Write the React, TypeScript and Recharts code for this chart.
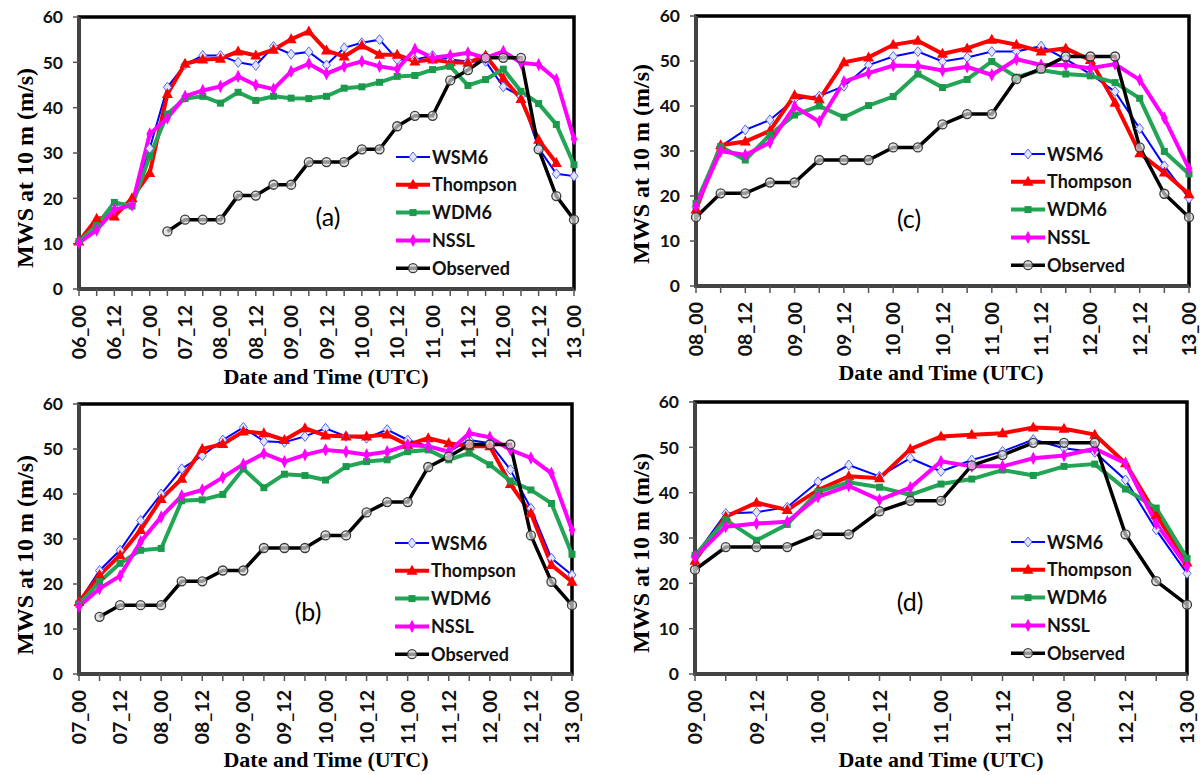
import React from "react";
import { LineChart, Line, XAxis, YAxis, ReferenceArea } from "recharts";

// 6-hourly times, 06 00 UTC through 13 00 UTC
const TIMES = [
  "06_00", "06_06", "06_12", "06_18", "07_00", "07_06", "07_12", "07_18",
  "08_00", "08_06", "08_12", "08_18", "09_00", "09_06", "09_12", "09_18",
  "10_00", "10_06", "10_12", "10_18", "11_00", "11_06", "11_12", "11_18",
  "12_00", "12_06", "12_12", "12_18", "13_00",
];

// observed MWS (m/s) on the same time grid
const OBSERVED = [
  null, null, null, null, null, 12.7, 15.3, 15.3, 15.3, 20.6, 20.6, 23, 23, 28, 28,
  28, 30.8, 30.8, 35.9, 38.2, 38.2, 46, 48.3, 51, 51, 51, 30.8, 20.5, 15.3,
];

// (a) initialised 06_00
const A_WSM6 = [10.5, 14, 18.5, 19, 31, 44.5, 49.5, 51.5, 51.5, 50, 49.3, 53.5, 51.8, 52.3, 49.4, 53.2, 54.3, 55, 50.6, 50.6, 51.5, 50.6, 50.2, 50.2, 44.6, 42.5, 31.1, 25.4, 24.9];
const A_THOMPSON = [10.5, 15.5, 16, 20, 25.6, 43, 49.7, 50.6, 50.8, 52.4, 51.5, 52.8, 55.1, 56.8, 52.6, 51.3, 53.7, 51.7, 51.7, 50.2, 50.6, 50, 49.9, 51.5, 46.5, 41.9, 32.9, 27.8, null];
const A_WDM6 = [10.5, 14, 19.1, 18.3, 29.3, 38.6, 42, 42.5, 41, 43.4, 41.6, 42.5, 42.1, 42, 42.5, 44.3, 44.6, 45.6, 46.9, 47.1, 48.4, 49.1, 44.9, 46.2, 48.5, 43.6, 40.9, 36.3, 27.4];
const A_NSSL = [10.2, 13, 17.5, 18.5, 34.2, 37.7, 42.5, 43.8, 44.7, 46.9, 45, 44.1, 48, 49.7, 47.5, 49.1, 50.2, 49.1, 48.5, 52.9, 51, 51.5, 52.1, 51, 52.4, 49.9, 49.5, 46.2, 33.1];

// (b) initialised 07_00
const B_WSM6 = [16, 23, 27.5, 34.1, 40, 45.6, 48.5, 52, 54.8, 51.7, 51.5, 52.8, 54.6, 52.8, 52.4, 54.3, 52, 50.6, 49.4, 52, 51.3, 45.4, 36.8, 25.7, 22];
const B_THOMPSON = [16, 22, 26.4, 32, 38.9, 43.4, 50, 51.1, 53.9, 53.5, 52, 54.6, 53, 52.8, 52.8, 53.2, 50.9, 52.4, 51.3, 50.6, 50.6, 42.2, 35.7, 24.2, 20.5];
const B_WDM6 = [15.5, 20.5, 24.6, 27.5, 27.9, 38.5, 38.7, 39.9, 45.6, 41.4, 44.4, 44.1, 43.1, 46.1, 47.2, 47.6, 49.4, 49.8, 47.6, 49.1, 46.5, 42.9, 40.9, 37.9, 26.6];
const B_NSSL = [15, 19, 21.8, 29.4, 34.9, 39.6, 40.9, 43.7, 46.6, 49, 47.2, 48.7, 49.8, 49.4, 48.7, 49.4, 50.9, 50.6, 49.4, 53.5, 52.6, 49.8, 48, 44.6, 32];

// (c) initialised 08_00
const C_WSM6 = [17.5, 31, 34.7, 36.9, 41.5, 42.2, 44.4, 49.1, 51, 52.1, 49.9, 50.8, 52.1, 52.1, 53.3, 50.4, 47.1, 43.2, 35, 26.7, 19.5];
const C_THOMPSON = [17, 31.3, 32.1, 34.5, 42.4, 41.5, 49.7, 50.8, 53.6, 54.5, 51.6, 52.8, 54.7, 53.6, 52.1, 52.8, 50.2, 40.7, 29.5, 25.2, 20.4];
const C_WDM6 = [18.4, 31, 28, 33.6, 38, 40, 37.5, 40.1, 42.1, 47.1, 44.1, 45.9, 49.9, 46.4, 48, 47.1, 46.7, 45.2, 41.7, 29.9, 24.9];
const C_NSSL = [17.8, 30, 29.1, 31.9, 39.9, 36.5, 45.4, 47.3, 49, 48.9, 47.9, 48.7, 46.9, 50.4, 49.1, 49.1, 48.4, 49.3, 45.8, 37.3, 26.1];

// (d) initialised 09_00
const D_WSM6 = [26, 35.4, 35.7, 36.8, 42.4, 46.1, 43.6, 47.6, 44.7, 47.2, 49.1, 51.7, 49.8, 48.9, 42.8, 31.8, 22.2];
const D_THOMPSON = [25, 34.7, 37.8, 36.2, 40.6, 43.6, 43.2, 49.6, 52.4, 52.8, 53.1, 54.4, 54.1, 52.8, 46.5, 35.1, 24.6];
const D_WDM6 = [26.2, 34, 29.5, 33, 40.2, 42.3, 41.2, 39.5, 41.9, 43, 45, 43.8, 45.8, 46.3, 40.8, 36.6, 25.5];
const D_NSSL = [25.8, 32.5, 33.2, 33.6, 39.1, 41.5, 38.4, 41.1, 46.9, 45.8, 45.8, 47.6, 48.2, 49.7, 46.5, 33.2, 23.7];

const Y_TICKS = [0, 10, 20, 30, 40, 50, 60];

const SANS = "Lato, 'Open Sans', sans-serif";
const SERIF = "'Liberation Serif', 'DejaVu Serif', serif";

const SERIES = [
  { key: "wsm6", name: "WSM6", color: "#0000FF", width: 2, marker: "diamond" },
  { key: "thompson", name: "Thompson", color: "#FF0000", width: 4, marker: "triangle" },
  { key: "wdm6", name: "WDM6", color: "#22A555", width: 4, marker: "square" },
  { key: "nssl", name: "NSSL", color: "#FF00FF", width: 4, marker: "star" },
  { key: "observed", name: "Observed", color: "#000000", width: 3.5, marker: "circle" },
];

function marker(kind: string, cx: number, cy: number, color: string) {
  switch (kind) {
    case "diamond":
      return <polygon points={`${cx},${cy - 5} ${cx + 4},${cy} ${cx},${cy + 5} ${cx - 4},${cy}`} fill="#e2e5ff" stroke="#5566f2" strokeWidth={1} />;
    case "triangle":
      return <polygon points={`${cx},${cy - 6} ${cx + 5.5},${cy + 4} ${cx - 5.5},${cy + 4}`} fill={color} />;
    case "square":
      return <rect x={cx - 3.5} y={cy - 3.5} width={7} height={7} fill="#1c9a4c" />;
    case "star":
      return <polygon points={`${cx},${cy - 5} ${cx + 2.5},${cy} ${cx},${cy + 5} ${cx - 2.5},${cy}`} fill={color} stroke={color} strokeWidth={1.5} />;
    default:
      return <circle cx={cx} cy={cy} r={4.5} fill="#d6d6d6" fillOpacity={0.7} stroke="#3a3a3a" strokeWidth={1.3} />;
  }
}

// only the 00 and 12 UTC ticks carry a label
const XTick = (props: any) => {
  const { x, y, payload } = props;
  const v: string = payload.value;
  if (!(v.endsWith("_00") || v.endsWith("_12"))) return <g />;
  return (
    <text x={x} y={y} transform={`rotate(-90 ${x} ${y})`} textAnchor="end" dy="0.36em"
      fontFamily={SANS} fontWeight={700} fontSize={19.5} fill="#111">
      {v}
    </text>
  );
};

const PANELS = [
  {
    id: "a", left: 0, top: 0, plot: { x0: 79, x1: 574, y0: 17, y1: 289 },
    wsm6: A_WSM6, thompson: A_THOMPSON, wdm6: A_WDM6, nssl: A_NSSL,
    legend: { x: 396, y: 157 }, letter: { x: 328, y: 218 },
    yTitle: { x: 25, y: 168 }, xTitle: { x: 326, y: 384 },
  },
  {
    id: "b", left: 0, top: 390, plot: { x0: 79, x1: 572, y0: 404, y1: 674 },
    wsm6: B_WSM6, thompson: B_THOMPSON, wdm6: B_WDM6, nssl: B_NSSL,
    legend: { x: 395, y: 543 }, letter: { x: 308, y: 613 },
    yTitle: { x: 25, y: 555 }, xTitle: { x: 326, y: 767 },
  },
  {
    id: "c", left: 602, top: 0, plot: { x0: 696, x1: 1189, y0: 16, y1: 286 },
    wsm6: C_WSM6, thompson: C_THOMPSON, wdm6: C_WDM6, nssl: C_NSSL,
    legend: { x: 1011, y: 154 }, letter: { x: 909, y: 220 },
    yTitle: { x: 641, y: 164 }, xTitle: { x: 941, y: 380 },
  },
  {
    id: "d", left: 602, top: 390, plot: { x0: 695, x1: 1187, y0: 402, y1: 674 },
    wsm6: D_WSM6, thompson: D_THOMPSON, wdm6: D_WDM6, nssl: D_NSSL,
    legend: { x: 1011, y: 542 }, letter: { x: 910, y: 603 },
    yTitle: { x: 641, y: 553 }, xTitle: { x: 941, y: 767 },
  },
];

const W = 601;
const H = 385;

function Panel({ cfg }: { cfg: any }) {
  const n = cfg.wsm6.length;
  const cats = TIMES.slice(TIMES.length - n);
  const obs = OBSERVED.slice(OBSERVED.length - n);
  const data = cats.map((t, i) => ({
    t,
    wsm6: cfg.wsm6[i],
    thompson: cfg.thompson[i],
    wdm6: cfg.wdm6[i],
    nssl: cfg.nssl[i],
    observed: obs[i],
  }));
  const { plot, left, top } = cfg;
  const margin = { top: plot.y0 - top, right: left + W - plot.x1, bottom: 0, left: 0 };

  return (
    <div style={{ position: "absolute", left, top }}>
      <LineChart width={W} height={H} data={data} margin={margin}>
        <ReferenceArea x1={cats[0]} x2={cats[n - 1]} y1={0} y2={60} fill="none"
          stroke="#000" strokeWidth={3.5} ifOverflow="visible" />
        <XAxis dataKey="t" interval={0} height={top + H - plot.y1} tick={<XTick />}
          tickSize={7} tickMargin={9} tickLine={{ stroke: "#555", strokeWidth: 1.5 }}
          axisLine={{ stroke: "#444", strokeWidth: 3.5 }} />
        <YAxis domain={[0, 60]} ticks={Y_TICKS} width={plot.x0 - left} tickSize={6} tickMargin={10}
          tickLine={{ stroke: "#555", strokeWidth: 1.5 }} axisLine={{ stroke: "#444", strokeWidth: 3.5 }}
          tick={{ fontFamily: SANS, fontWeight: 700, fontSize: 17.5, fill: "#111" }} />
        {SERIES.map((s) => (
          <Line key={s.key} dataKey={s.key} name={s.name} stroke={s.color} strokeWidth={s.width}
            isAnimationActive={false} connectNulls={false}
            dot={(p: any) =>
              p.cy == null || p.value == null
                ? <g key={`${s.key}-${p.index}`} />
                : <g key={`${s.key}-${p.index}`}>{marker(s.marker, p.cx, p.cy, s.color)}</g>}
            activeDot={false} />
        ))}
      </LineChart>
    </div>
  );
}

function Labels({ cfg }: { cfg: any }) {
  const { legend, letter, yTitle, xTitle } = cfg;
  return (
    <g>
      <text x={yTitle.x} y={yTitle.y} transform={`rotate(-90 ${yTitle.x} ${yTitle.y})`} textAnchor="middle"
        dy="0.35em" fontFamily={SERIF} fontWeight={700} fontSize={24} fill="#000">
        MWS at 10 m (m/s)
      </text>
      <text x={xTitle.x} y={xTitle.y} textAnchor="middle" fontFamily={SERIF} fontWeight={700} fontSize={22} fill="#000">
        Date and Time (UTC)
      </text>
      <text x={letter.x} y={letter.y + 8} textAnchor="middle" fontFamily={SANS} fontSize={25} fill="#000">
        ({cfg.id})
      </text>
      {SERIES.map((s, k) => {
        const y = legend.y + k * 27.8;
        return (
          <g key={s.key}>
            <line x1={legend.x} x2={legend.x + 34} y1={y} y2={y} stroke={s.color} strokeWidth={s.width} />
            {marker(s.marker, legend.x + 17, y, s.color)}
            <text x={legend.x + 36} y={y + 6.5} fontFamily={SANS} fontWeight={700} fontSize={18} fill="#111">
              {s.name}
            </text>
          </g>
        );
      })}
    </g>
  );
}

export default function App() {
  return (
    <div style={{ position: "absolute", left: 0, top: 0, width: 1203, height: 775, background: "#fff", overflow: "hidden" }}>
      {PANELS.map((p) => <Panel key={p.id} cfg={p} />)}
      <svg width={1203} height={775} style={{ position: "absolute", left: 0, top: 0, pointerEvents: "none" }}>
        {PANELS.map((p) => <Labels key={p.id} cfg={p} />)}
      </svg>
    </div>
  );
}
